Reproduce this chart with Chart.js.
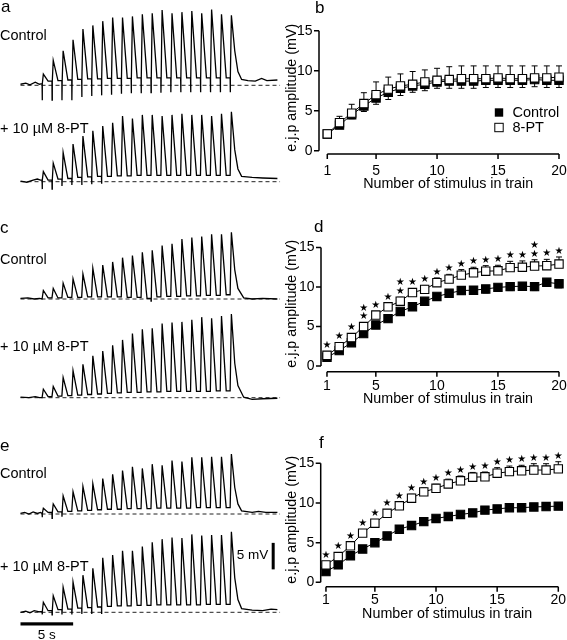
<!DOCTYPE html>
<html>
<head>
<meta charset="utf-8">
<script src="https://cdn.jsdelivr.net/npm/chart.js@4.4.0/dist/chart.umd.min.js"></script>
<style>
  body { margin: 0; background: #fff; }
  #fig { position: relative; width: 567px; height: 640px; font-family: "Liberation Sans", Arial, sans-serif; color: #000; }
  canvas { position: absolute; }
  .lbl { position: absolute; font-size: 14.5px; line-height: 1; white-space: nowrap; }
  .letter { position: absolute; font-size: 17px; line-height: 1; }
</style>
</head>
<body>
<div id="fig">
  <canvas id="aCtrl" width="290" height="105" style="left:0;top:0"></canvas>
  <canvas id="a8pt" width="290" height="90" style="left:0;top:105px"></canvas>
  <canvas id="cCtrl" width="290" height="95" style="left:0;top:215px"></canvas>
  <canvas id="c8pt" width="290" height="95" style="left:0;top:310px"></canvas>
  <canvas id="eCtrl" width="290" height="85" style="left:0;top:440px"></canvas>
  <canvas id="e8pt" width="290" height="115" style="left:0;top:525px"></canvas>
  <canvas id="chartB" width="282" height="200" style="left:285px;top:0"></canvas>
  <canvas id="chartD" width="282" height="210" style="left:285px;top:200px"></canvas>
  <canvas id="chartF" width="282" height="230" style="left:285px;top:410px"></canvas>

  <div class="letter" style="left:1px;top:-2px">a</div>
  <div class="letter" style="left:315px;top:-1px">b</div>
  <div class="letter" style="left:0;top:219px">c</div>
  <div class="letter" style="left:314px;top:218px">d</div>
  <div class="letter" style="left:0;top:437px">e</div>
  <div class="letter" style="left:319px;top:434px">f</div>

  <div class="lbl" style="left:0;top:28px">Control</div>
  <div class="lbl" style="left:0;top:121px">+ 10 µM 8-PT</div>
  <div class="lbl" style="left:0;top:252px">Control</div>
  <div class="lbl" style="left:0;top:339px">+ 10 µM 8-PT</div>
  <div class="lbl" style="left:0;top:466px">Control</div>
  <div class="lbl" style="left:0;top:559px">+ 10 µM 8-PT</div>
</div>
<script>
// ---- e.j.p. amplitude summaries (mV), stimulus 1..20 ----
const STIMULI = [1, 2, 3, 4, 5, 6, 7, 8, 9, 10, 11, 12, 13, 14, 15, 16, 17, 18, 19, 20];
const X_TICKS = [1, 5, 10, 15, 20];
const Y_TICKS = [0, 5, 10, 15];
const X_TITLE = 'Number of stimulus in train';
const Y_TITLE = 'e.j.p amplitude (mV)';
const LEGEND = ['Control', '8-PT'];

const B_CONTROL = [2.1, 3.2, 4.5, 5.6, 6.6, 7.3, 7.8, 8.1, 8.3, 8.6, 8.7, 8.7, 8.7, 8.8, 8.8, 8.8, 8.8, 8.9, 8.8, 8.8];
const B_CONTROL_SEM = [0.3, 0.4, 0.5, 0.7, 0.8, 0.9, 0.9, 0.8, 0.8, 0.8, 0.9, 0.9, 0.9, 0.9, 0.9, 0.9, 0.9, 0.9, 0.9, 0.9];
const B_8PT = [2.1, 3.5, 4.7, 5.9, 7.0, 7.7, 8.1, 8.3, 8.6, 8.8, 8.9, 9.0, 9.0, 9.0, 9.1, 9.0, 9.0, 9.1, 9.1, 9.2];
const B_8PT_SEM = [0.3, 0.8, 1.1, 1.35, 1.6, 1.5, 1.5, 1.6, 1.5, 1.5, 1.6, 1.6, 1.6, 1.6, 1.5, 1.6, 1.6, 1.5, 1.5, 1.4];

const D_CONTROL = [1.1, 1.95, 2.95, 4.1, 5.2, 6.0, 6.9, 7.5, 8.2, 8.8, 9.2, 9.55, 9.6, 9.75, 9.95, 10.05, 10.1, 10.05, 10.6, 10.4];
const D_CONTROL_SEM = [0.2, 0.3, 0.3, 0.3, 0.3, 0.4, 0.4, 0.4, 0.5, 0.5, 0.5, 0.5, 0.5, 0.5, 0.5, 0.5, 0.5, 0.5, 0.5, 0.5];
const D_8PT = [1.35, 2.45, 3.6, 5.0, 6.45, 7.5, 8.2, 9.3, 9.7, 10.55, 11.0, 11.5, 11.8, 12.0, 12.05, 12.45, 12.5, 12.65, 12.7, 12.9];
const D_8PT_SEM = [0.2, 0.3, 0.3, 0.4, 0.4, 0.4, 0.5, 0.5, 0.5, 0.6, 0.6, 0.7, 0.7, 0.7, 0.7, 0.8, 0.8, 0.8, 0.8, 0.9];
const D_STARS = [1, 1, 1, 2, 1, 1, 2, 1, 1, 1, 1, 1, 1, 1, 1, 1, 1, 2, 1, 1];

const F_CONTROL = [1.35, 2.2, 3.35, 4.2, 5.0, 5.85, 6.7, 7.15, 7.65, 8.05, 8.3, 8.55, 8.75, 9.1, 9.25, 9.4, 9.4, 9.5, 9.55, 9.6];
const F_CONTROL_SEM = [0.2, 0.2, 0.3, 0.3, 0.3, 0.3, 0.3, 0.3, 0.4, 0.4, 0.4, 0.4, 0.4, 0.4, 0.4, 0.4, 0.4, 0.4, 0.4, 0.4];
const F_8PT = [2.2, 3.25, 4.6, 6.2, 7.45, 8.7, 9.65, 10.6, 11.4, 11.85, 12.4, 12.8, 13.25, 13.3, 13.75, 13.95, 14.05, 14.15, 14.15, 14.3];
const F_8PT_SEM = [0.2, 0.3, 0.3, 0.4, 0.4, 0.4, 0.5, 0.5, 0.5, 0.5, 0.6, 0.6, 0.6, 0.6, 0.7, 0.7, 0.7, 0.8, 0.8, 0.9];
const F_STARS = [1, 1, 1, 1, 1, 1, 1, 1, 1, 1, 1, 1, 1, 1, 1, 1, 1, 1, 1, 1];

// ---- example recordings: value at each stimulus (trough), e.j.p. peak, stimulus artefact depth (mV) ----
const STIM_START = 2.05;     // s
const STIM_INTERVAL = 0.94;  // s
const T_END = 24.4;          // s

const A_CTRL_PEAK = [2.1, 4.7, 6.5, 8.6, 10.6, 11.3, 12.1, 12.8, 12.8, 13.0, 13.4, 13.6, 14.2, 13.6, 13.8, 14.0, 13.6, 14.3, 13.4, 13.2];
const A_CTRL_TROUGH = [0.3, 0.8, 0.9, 1.0, 1.1, 1.2, 1.2, 1.3, 1.3, 1.3, 1.4, 1.4, 1.4, 1.4, 1.4, 1.4, 1.4, 1.4, 1.4, 1.4];
const A_CTRL_ART = [2.8, 2.8, 2.8, 2.8, 2.2, 2.0, 1.9, 1.8, 1.6, 1.5, 1.5, 1.4, 1.4, 1.3, 1.3, 1.3, 1.3, 1.3, 1.3, 1.3];
const A_CTRL_PRE = [[0, 0.2], [0.5, 0.4], [0.9, 0.1], [1.4, 0.6], [1.8, 0.2]];
const A_CTRL_POST = [[20.35, 6.5], [20.65, 2.6], [21.0, 1.1], [21.6, 0.9], [22.3, 0.8], [22.9, 1.3], [23.4, 0.9], [24.4, 1.0]];

const A_8PT_PEAK = [1.9, 3.5, 5.5, 7.1, 8.6, 9.6, 10.5, 11.1, 12.4, 11.9, 12.6, 12.6, 12.4, 12.6, 12.8, 12.6, 12.6, 12.4, 12.8, 13.2];
const A_8PT_TROUGH = [0.3, 0.3, 0.5, 0.6, 0.8, 0.9, 1.0, 1.0, 1.1, 1.1, 1.2, 1.2, 1.2, 1.2, 1.2, 1.2, 1.2, 1.2, 1.2, 1.2];
const A_8PT_ART = [1.4, 1.4, 0.8, 0.6, 0.6, 0.5, 0.4, 0, 0, 0, 0, 0, 0, 0, 0, 0, 0, 0, 0, 0];
const A_8PT_PRE = [[0, 0.1], [0.6, -0.1], [1.2, 0.3], [1.6, 0.5], [1.9, 0.3]];
const A_8PT_POST = [[20.35, 6.0], [20.65, 2.4], [21.0, 1.0], [22.0, 0.8], [23.0, 0.7], [24.4, 0.6]];

const C_CTRL_PEAK = [1.6, 2.0, 3.0, 3.8, 4.7, 5.8, 6.4, 7.0, 7.8, 8.2, 8.8, 9.2, 10.1, 10.4, 11.3, 11.6, 11.8, 12.2, 12.2, 12.6];
const C_CTRL_TROUGH = [0.0, 0.2, 0.2, 0.3, 0.3, 0.4, 0.4, 0.4, 0.4, 0.3, 0.3, 0.1, 0.4, 0.5, 0.5, 0.6, 0.6, 0.7, 0.7, 0.8];
const C_CTRL_ART = [0, 0, 0, 0, 0, 0, 0, 0, 0, 0, 0, 0.4, 0, 0, 0, 0, 0, 0, 0, 0];
const C_CTRL_PRE = [[0, 0.1], [0.7, 0.2], [1.3, 0.0], [1.8, 0.1]];
const C_CTRL_POST = [[20.35, 5.5], [20.65, 2.0], [21.2, 0.2], [22.0, 0.0], [23.0, 0.1], [24.4, 0.0]];

const C_8PT_PEAK = [1.6, 2.1, 3.8, 5.1, 6.3, 7.9, 8.8, 9.9, 10.9, 12.1, 12.9, 13.1, 14.0, 14.2, 14.3, 14.7, 15.2, 15.0, 15.4, 15.8];
const C_8PT_TROUGH = [0.0, 0.2, 0.3, 0.4, 0.5, 0.6, 0.7, 0.8, 0.9, 1.0, 1.0, 1.1, 1.1, 1.2, 1.2, 1.2, 1.2, 1.2, 1.3, 1.3];
const C_8PT_ART = [0, 0, 0, 0, 0, 0, 0, 0, 0, 0, 0, 0, 0, 0, 0, 0, 0, 0, 0, 0];
const C_8PT_PRE = [[0, 0.1], [0.8, 0.0], [1.4, 0.2], [1.8, 0.0]];
const C_8PT_POST = [[20.35, 6.5], [20.65, 2.3], [21.2, 0.1], [22.0, -0.3], [23.0, -0.2], [24.4, -0.1]];

const E_CTRL_PEAK = [1.1, 1.9, 3.4, 4.2, 5.2, 5.7, 6.7, 7.5, 8.2, 8.9, 8.6, 9.4, 9.2, 10.1, 9.9, 10.7, 10.7, 10.8, 10.8, 11.3];
const E_CTRL_TROUGH = [0.1, 0.3, 0.4, 0.5, 0.6, 0.7, 0.8, 0.9, 0.9, 1.0, 1.0, 1.0, 1.1, 1.1, 1.1, 1.1, 1.2, 1.2, 1.2, 1.2];
const E_CTRL_ART = [0.6, 0.8, 0.5, 0, 0, 0, 0, 0, 0, 0, 0, 0, 0, 0, 0, 0, 0, 0, 0, 0];
const E_CTRL_PRE = [[0, 0.1], [0.4, 0.3], [0.8, 0.0], [1.2, 0.4], [1.6, 0.1], [1.9, 0.3]];
const E_CTRL_POST = [[20.35, 5.0], [20.65, 1.9], [21.0, 0.6], [22.0, 0.3], [22.6, 0.5], [23.3, 0.3], [24.4, 0.3]];

const E_8PT_PEAK = [1.9, 3.1, 4.7, 5.7, 7.0, 8.3, 10.3, 10.8, 11.6, 11.6, 12.4, 13.2, 13.8, 14.1, 14.0, 14.7, 14.5, 14.6, 14.6, 15.2];
const E_8PT_TROUGH = [0.1, 0.3, 0.5, 0.6, 0.8, 0.9, 1.0, 1.1, 1.2, 1.2, 1.3, 1.3, 1.4, 1.4, 1.4, 1.4, 1.4, 1.5, 1.5, 1.5];
const E_8PT_ART = [0.4, 0.5, 0.4, 0.4, 0.3, 0.3, 0.3, 0, 0, 0, 0, 0, 0, 0, 0, 0, 0, 0, 0, 0];
const E_8PT_PRE = [[0, 0.0], [0.5, 0.2], [0.9, -0.1], [1.3, 0.3], [1.8, 0.1]];
const E_8PT_POST = [[20.35, 6.5], [20.65, 2.4], [21.0, 0.7], [22.0, 0.4], [23.0, 0.3], [23.8, 0.6], [24.4, 0.5]];

// ---- layout ----
const PX_PER_MV = 5.3;   // from the 5 mV calibration bar
const RISE = 0.12;
const DECAY = 0.45;
const FONT = '"Liberation Sans", Arial, sans-serif';

function tracePoints(pre, peaks, troughs, arts, post) {
  const pts = pre.map(([x, y]) => ({ x, y }));
  peaks.forEach((p, i) => {
    const t = STIM_START + i * STIM_INTERVAL;
    pts.push({ x: t, y: troughs[i] });
    if (arts[i]) {
      pts.push({ x: t + 0.01, y: -arts[i] });
      pts.push({ x: t + 0.03, y: troughs[i] });
    }
    pts.push({ x: t + RISE, y: p });
    if (i < peaks.length - 1) pts.push({ x: t + RISE + DECAY, y: troughs[i + 1] });
  });
  post.forEach(([x, y]) => pts.push({ x, y }));
  return pts;
}

const calibration = {
  id: 'calibration',
  afterDatasetsDraw(chart) {
    if (!chart.options.plugins.calibration.show) return;
    const { ctx, scales: { x, y } } = chart;
    const base = y.getPixelForValue(0);
    ctx.save();
    ctx.fillStyle = '#000';
    // 5 mV bar
    const bx = x.getPixelForValue(24.0);
    const top = y.getPixelForValue(13.1), bot = y.getPixelForValue(8.1);
    ctx.fillRect(bx - 1.5, top, 3, bot - top);
    ctx.font = '13.5px ' + FONT;
    ctx.textAlign = 'right';
    ctx.textBaseline = 'middle';
    ctx.fillText('5 mV', bx - 5, (top + bot) / 2 - 1);
    // 5 s bar
    const x0 = x.getPixelForValue(0), x1 = x.getPixelForValue(5);
    ctx.fillRect(x0, base + 10, x1 - x0, 3.2);
    ctx.textAlign = 'center';
    ctx.textBaseline = 'alphabetic';
    ctx.fillText('5 s', x.getPixelForValue(2.5), base + 26.5);
    ctx.restore();
  }
};

function makeTrace(id, top, height, baseY, pts, showCal) {
  new Chart(document.getElementById(id), {
    type: 'line',
    data: {
      datasets: [
        { data: pts, borderColor: '#000', borderWidth: 1.3, pointRadius: 0, tension: 0, clip: false },
        { data: [{ x: 0, y: 0 }, { x: T_END + 0.25, y: 0 }], borderColor: '#222', borderWidth: 1,
          borderDash: [4, 3], pointRadius: 0, clip: false }
      ]
    },
    options: {
      responsive: false,
      animation: false,
      events: [],
      layout: { padding: { left: 20.5, right: 12.6, top: 0, bottom: 0 } },
      scales: {
        x: { type: 'linear', display: false, min: 0, max: T_END },
        y: { display: false, min: -(top + height - baseY) / PX_PER_MV, max: (baseY - top) / PX_PER_MV }
      },
      plugins: { legend: { display: false }, tooltip: { enabled: false }, calibration: { show: !!showCal } }
    },
    plugins: [calibration]
  });
}

makeTrace('aCtrl', 0, 105, 85.3, tracePoints(A_CTRL_PRE, A_CTRL_PEAK, A_CTRL_TROUGH, A_CTRL_ART, A_CTRL_POST));
makeTrace('a8pt', 105, 90, 181.7, tracePoints(A_8PT_PRE, A_8PT_PEAK, A_8PT_TROUGH, A_8PT_ART, A_8PT_POST));
makeTrace('cCtrl', 215, 95, 299, tracePoints(C_CTRL_PRE, C_CTRL_PEAK, C_CTRL_TROUGH, C_CTRL_ART, C_CTRL_POST));
makeTrace('c8pt', 310, 95, 397.7, tracePoints(C_8PT_PRE, C_8PT_PEAK, C_8PT_TROUGH, C_8PT_ART, C_8PT_POST));
makeTrace('eCtrl', 440, 85, 514, tracePoints(E_CTRL_PRE, E_CTRL_PEAK, E_CTRL_TROUGH, E_CTRL_ART, E_CTRL_POST));
makeTrace('e8pt', 525, 115, 612.3, tracePoints(E_8PT_PRE, E_8PT_PEAK, E_8PT_TROUGH, E_8PT_ART, E_8PT_POST), true);

// ---- summary panels ----
const panelDecor = {
  id: 'panelDecor',
  beforeDatasetsDraw(chart) {
    const o = chart.options.plugins.panelDecor;
    const { ctx, scales: { x, y } } = chart;
    const ax = x.getPixelForValue(x.min), ay = y.getPixelForValue(y.min);
    ctx.save();
    ctx.strokeStyle = '#000';
    ctx.fillStyle = '#000';
    ctx.lineWidth = 1.5;
    ctx.beginPath();
    ctx.moveTo(ax, y.getPixelForValue(Y_TICKS[Y_TICKS.length - 1]));
    ctx.lineTo(ax, y.getPixelForValue(Y_TICKS[0]));
    Y_TICKS.forEach(v => { const py = y.getPixelForValue(v); ctx.moveTo(ax - 5, py); ctx.lineTo(ax, py); });
    ctx.moveTo(x.getPixelForValue(X_TICKS[0]), ay);
    ctx.lineTo(x.getPixelForValue(X_TICKS[X_TICKS.length - 1]), ay);
    X_TICKS.forEach(v => { const px = x.getPixelForValue(v); ctx.moveTo(px, ay); ctx.lineTo(px, ay + 5); });
    ctx.stroke();

    ctx.font = '14px ' + FONT;
    ctx.textAlign = 'right';
    ctx.textBaseline = 'middle';
    Y_TICKS.forEach(v => ctx.fillText(String(v), ax - 6.5, y.getPixelForValue(v)));
    ctx.textAlign = 'center';
    ctx.textBaseline = 'alphabetic';
    X_TICKS.forEach(v => ctx.fillText(String(v), x.getPixelForValue(v), ay + o.tickGap));

    ctx.font = '14.3px ' + FONT;
    const xMid = (x.getPixelForValue(X_TICKS[0]) + x.getPixelForValue(X_TICKS[X_TICKS.length - 1])) / 2 + 5;
    ctx.fillText(X_TITLE, xMid, ay + o.titleGap);
    ctx.save();
    ctx.translate(7, (y.getPixelForValue(0) + y.getPixelForValue(15)) / 2 - 3);
    ctx.rotate(-Math.PI / 2);
    ctx.textBaseline = 'middle';
    ctx.fillText(Y_TITLE, 0, 0);
    ctx.restore();

    // error bars (8-PT upward, control downward)
    ctx.lineWidth = 1;
    chart.data.datasets.forEach(ds => {
      ctx.beginPath();
      ds.data.forEach((p, i) => {
        const px = x.getPixelForValue(p.x);
        const y0 = y.getPixelForValue(p.y);
        const y1 = y.getPixelForValue(p.y + ds.errDir * ds.err[i]);
        ctx.moveTo(px, y0); ctx.lineTo(px, y1);
        ctx.moveTo(px - 3, y1); ctx.lineTo(px + 3, y1);
      });
      ctx.stroke();
    });
    ctx.restore();
  },
  afterDatasetsDraw(chart) {
    const o = chart.options.plugins.panelDecor;
    const { ctx, scales: { x, y } } = chart;
    ctx.save();
    ctx.fillStyle = '#000';
    ctx.strokeStyle = '#000';
    const pt = chart.data.datasets[0];
    if (pt.stars) {
      ctx.font = '10px "DejaVu Sans"';
      ctx.textAlign = 'center';
      ctx.textBaseline = 'middle';
      pt.stars.forEach((n, i) => {
        const p = pt.data[i];
        const top = Math.min(y.getPixelForValue(p.y + pt.err[i]), y.getPixelForValue(p.y) - 4.3);
        for (let k = 0; k < n; k++) ctx.fillText('★', x.getPixelForValue(p.x), top - 5.5 - k * 8.7);
      });
    }
    if (o.legend) {
      ctx.font = '14.5px ' + FONT;
      ctx.textAlign = 'left';
      ctx.textBaseline = 'middle';
      ctx.lineWidth = 1;
      ctx.fillRect(214 - 4.2, 112.5 - 4.2, 8.4, 8.4);
      ctx.fillText(LEGEND[0], 227.5, 112.5);
      ctx.fillStyle = '#fff';
      ctx.fillRect(214 - 4.2, 127.5 - 4.2, 8.4, 8.4);
      ctx.strokeRect(214 - 4.2, 127.5 - 4.2, 8.4, 8.4);
      ctx.fillStyle = '#000';
      ctx.fillText(LEGEND[1], 227.5, 127.5);
    }
    ctx.restore();
  }
};

function makePanel(id, ctrl, ctrlErr, pt, ptErr, stars, area, legend) {
  const toXY = arr => arr.map((v, i) => ({ x: STIMULI[i], y: v }));
  const marker = { pointStyle: 'rect', pointRadius: 5.9, pointBorderWidth: 1.1, pointBorderColor: '#000',
                   borderColor: '#000', borderWidth: 1, showLine: true, clip: false };
  new Chart(document.getElementById(id), {
    type: 'line',
    data: {
      datasets: [
        { label: LEGEND[1], data: toXY(pt), err: ptErr, errDir: 1, stars, pointBackgroundColor: '#fff', ...marker },
        { label: LEGEND[0], data: toXY(ctrl), err: ctrlErr, errDir: -1, pointBackgroundColor: '#000', ...marker }
      ]
    },
    options: {
      responsive: false,
      animation: false,
      events: [],
      layout: { padding: area.pad },
      scales: {
        x: { type: 'linear', display: false, min: area.xMin, max: 20 },
        y: { display: false, min: area.yMin, max: 15 }
      },
      plugins: {
        legend: { display: false },
        tooltip: { enabled: false },
        panelDecor: { tickGap: area.tickGap, titleGap: area.titleGap, legend }
      }
    },
    plugins: [panelDecor]
  });
}

makePanel('chartB', B_CONTROL, B_CONTROL_SEM, B_8PT, B_8PT_SEM, null,
  { pad: { left: 34, right: 8, top: 30.7, bottom: 46 }, xMin: 0.32, yMin: -0.41, tickGap: 21, titleGap: 34 }, true);
makePanel('chartD', D_CONTROL, D_CONTROL_SEM, D_8PT, D_8PT_SEM, D_STARS,
  { pad: { left: 36, right: 8, top: 47.5, bottom: 38.3 }, xMin: 0.51, yMin: -0.72, tickGap: 18, titleGap: 31 }, false);
makePanel('chartF', F_CONTROL, F_CONTROL_SEM, F_8PT, F_8PT_SEM, F_STARS,
  { pad: { left: 35.7, right: 8.7, top: 53.3, bottom: 53.3 }, xMin: 0.57, yMin: -0.55, tickGap: 17, titleGap: 31 }, false);
</script>
</body>
</html>
